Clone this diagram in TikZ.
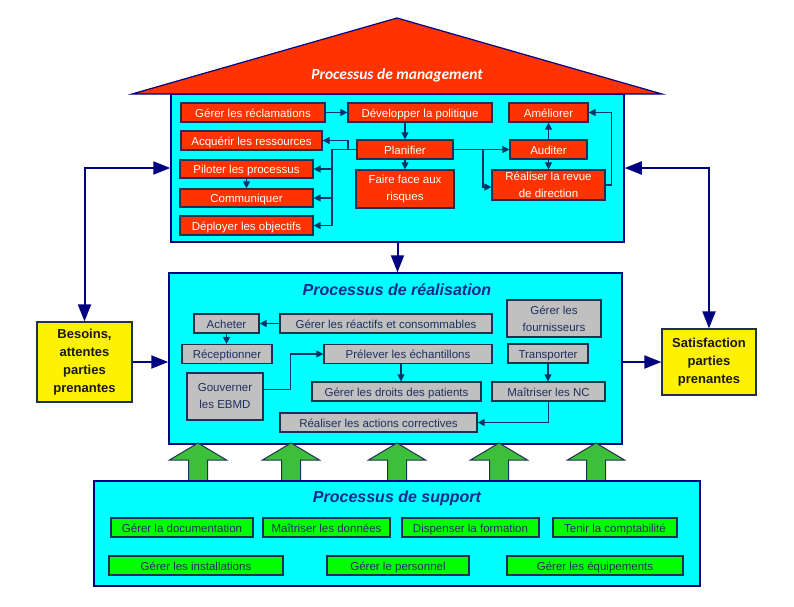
\documentclass[tikz,border=0pt]{standalone}
\usepackage{fontspec}
\setmainfont{Liberation Sans}
\newfontfamily\roofont{Carlito}
\usetikzlibrary{arrows.meta}
\definecolor{mred}{HTML}{FF3300}
\definecolor{cyanbg}{HTML}{00FFFF}
\definecolor{greybox}{HTML}{C0C0C0}
\definecolor{greenbox}{HTML}{00FF00}
\definecolor{greenarr}{HTML}{3CC03C}
\definecolor{boxline}{HTML}{1F3050}
\definecolor{linkblue}{HTML}{003366}
\definecolor{navyline}{HTML}{000080}
\definecolor{titleblue}{HTML}{102A8C}
\definecolor{textblue}{HTML}{1F2F5F}
\begin{document}
\begin{tikzpicture}[x=1pt,y=-1pt,
  every node/.style={font=\fontsize{11.5}{17}\selectfont},
  mgt/.style={draw=boxline, line width=1.2pt, fill=mred, text=white, inner sep=0pt, text height=9.5pt, text depth=0.5pt},
  rea/.style={mgt, fill=greybox, text=textblue},
  sup/.style={mgt, fill=greenbox, text=textblue},
  two/.style={align=center, text height=, text depth=},
  need/.style={draw=boxline, line width=1.2pt, fill=yellow, text=black!90, inner sep=0pt, align=center, font=\bfseries\fontsize{13}{18}\selectfont},
  area/.style={draw=navyline, line width=1.5pt, fill=cyanbg, inner sep=0pt},
  title/.style={text=titleblue, font=\bfseries\itshape\fontsize{16}{19}\selectfont},
  link/.style={-{Triangle[length=7pt,width=7pt]}, line width=1.1pt, linkblue},
  big/.style={-{Triangle[length=17pt,width=13pt]}, line width=2pt, navyline},
  bigboth/.style={{Triangle[length=17pt,width=13pt]}-{Triangle[length=17pt,width=13pt]}, line width=2pt, navyline},
  ]
\useasboundingbox (0,0) rectangle (794,606);

\node[area, minimum width=453, minimum height=148] (mgmt) at (397.5,168) {};
\draw[fill=mred, draw=navyline, line width=1.2pt] (132,94) -- (397,18) -- (662,94) -- cycle;
\node[text=white, font=\roofont\bfseries\itshape\fontsize{15.5}{18}\selectfont] (mtitle) at (397,75) {Processus de management};

\node[mgt, minimum width=144, minimum height=19] (recl) at (253,112.5) {Gérer les réclamations};
\node[mgt, minimum width=144, minimum height=19] (polit) at (420,112.5) {Développer la politique};
\node[mgt, minimum width=79, minimum height=19] (amel) at (548.5,112.5) {Améliorer};
\node[mgt, minimum width=141, minimum height=19] (acq) at (251.5,140.5) {Acquérir les ressources};
\node[mgt, minimum width=96, minimum height=19] (plan) at (405,149.5) {Planifier};
\node[mgt, minimum width=77, minimum height=19] (audit) at (548.5,149.5) {Auditer};
\node[mgt, minimum width=133, minimum height=18] (pilot) at (246.5,169) {Piloter les processus};
\node[mgt, two, minimum width=98, minimum height=38] (risq) at (405,189) {Faire face aux\\risques};
\node[mgt, two, minimum width=113, minimum height=30] (revue) at (548.5,185) {Réaliser la revue\\de direction};
\node[mgt, minimum width=133, minimum height=18] (comm) at (246.5,198) {Communiquer};
\node[mgt, minimum width=133, minimum height=19] (depl) at (246.5,225.5) {Déployer les objectifs};

\coordinate (pl1) at (332,149.5);
\coordinate (pl2) at (348,149.5);
\coordinate (pr1) at (483,149.5);
\draw[link] (recl.east) -- (polit.west);
\draw[link] (plan.north |- polit.south) -- (plan.north);
\draw[link] (plan.south) -- (risq.north);
\draw[link] (plan.west) -- (pl1) |- (depl.east);
\draw[link] (pl1) |- (pilot.east);
\draw[link] (pl1) |- (comm.east);
\draw[link] (pl2) |- (acq.east);
\draw[link] (pilot.south) -- (comm.north);
\draw[link] (plan.east) -- (audit.west);
\draw[link] (pr1) |- ([yshift=-2pt]revue.west);
\draw[link] (audit.north) -- (amel.south);
\draw[link] (audit.south) -- (revue.north);
\draw[link] (revue.east) -- ++(6,0) |- (amel.east);

\node[area, minimum width=453, minimum height=171] (rea) at (395.5,358.5) {};
\node[title] (rtitle) at (397,290) {Processus de réalisation};

\node[rea, minimum width=65, minimum height=19] (achat) at (226.5,323.5) {Acheter};
\node[rea, minimum width=212, minimum height=19] (react) at (386,323.5) {Gérer les réactifs et consommables};
\node[rea, two, minimum width=94, minimum height=37] (fourn) at (554,318.5) {Gérer les\\fournisseurs};
\node[rea, minimum width=90, minimum height=19] (recep) at (227,354) {Réceptionner};
\node[rea, minimum width=168, minimum height=19] (prel) at (408,354) {Prélever les échantillons};
\node[rea, minimum width=80, minimum height=19] (transp) at (548,353.5) {Transporter};
\node[rea, two, minimum width=76, minimum height=47] (gouv) at (225,396.5) {Gouverner\\les EBMD};
\node[rea, minimum width=169, minimum height=19] (droits) at (396.5,391.5) {Gérer les droits des patients};
\node[rea, minimum width=113, minimum height=19] (nc) at (548.5,391.5) {Maîtriser les NC};
\node[rea, minimum width=197, minimum height=19] (actions) at (378.5,422.5) {Réaliser les actions correctives};

\draw[link] (react.west) -- (achat.east);
\draw[link] (achat.south) -- (achat.south |- recep.north);
\draw[link] ([yshift=7pt]gouv.east) -- ++(27,0) |- (prel.west);
\draw[link] ([xshift=-7pt]prel.south) -- ([xshift=-7pt]prel.south |- droits.north);
\draw[link] (transp.south) -- (transp.south |- nc.north);
\draw[link] (nc.south) |- (actions.east);

\foreach \x in {198,291,397,499,596}
  \draw[fill=greenarr, draw=boxline, line width=1pt] (\x-9.5,482) -- (\x-9.5,460) -- (\x-28.5,460) -- (\x,443) -- (\x+28.5,460) -- (\x+9.5,460) -- (\x+9.5,482);

\node[area, minimum width=606, minimum height=105] (supp) at (397,533.5) {};
\node[title] (stitle) at (397,498) {Processus de support};

\node[sup, minimum width=142, minimum height=19] (doc) at (182,527.5) {Gérer la documentation};
\node[sup, minimum width=127, minimum height=19] (donn) at (326.5,527.5) {Maîtriser les données};
\node[sup, minimum width=137, minimum height=19] (form) at (470.5,527.5) {Dispenser la formation};
\node[sup, minimum width=124, minimum height=19] (compt) at (615,527.5) {Tenir la comptabilité};
\node[sup, minimum width=174, minimum height=19] (inst) at (196,565.5) {Gérer les installations};
\node[sup, minimum width=142, minimum height=19] (pers) at (398,565.5) {Gérer le personnel};
\node[sup, minimum width=176, minimum height=19] (equip) at (595,565.5) {Gérer les équipements};

\node[need, minimum width=95, minimum height=80] (besoins) at (84.5,362) {Besoins,\\attentes\\parties\\prenantes};
\node[need, minimum width=94, minimum height=66] (satis) at (709,362) {Satisfaction\\parties\\prenantes};

\draw[bigboth] (besoins.north) |- (mgmt.west);
\draw[bigboth] (satis.north) |- (mgmt.east);
\draw[big] (mgmt.south) -- (mgmt.south |- rea.north);
\draw[big] (besoins.east) -- (besoins.east -| rea.west);
\draw[big] (satis.west -| rea.east) -- (satis.west);

\end{tikzpicture}
\end{document}
